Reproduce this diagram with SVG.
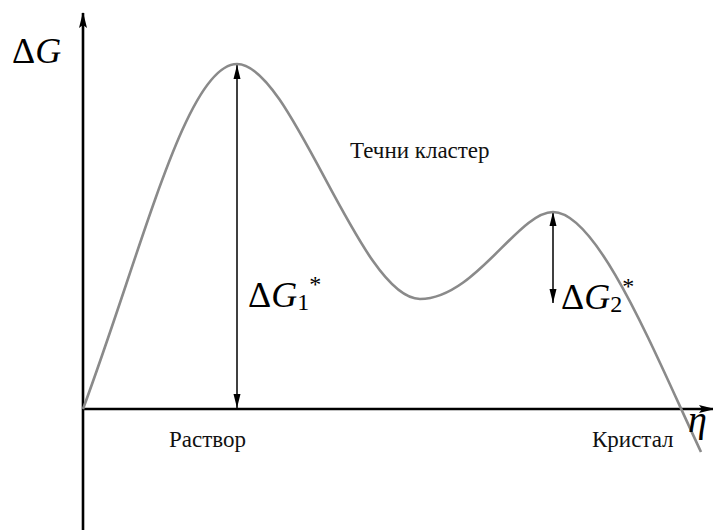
<svg xmlns="http://www.w3.org/2000/svg" width="713" height="530" viewBox="0 0 713 530">
<defs>
<style>
.axis{stroke:#000;stroke-width:2.6;fill:none}
.dim{stroke:#000;stroke-width:1.5;fill:none}
.curve{stroke:#8a8a8a;stroke-width:2.6;fill:none}
text{font-family:'Liberation Serif',serif}
.lbl{fill:#111}
.math{fill:#000}
</style>
<marker id="axArrow" viewBox="0 0 16 10" refX="15" refY="5" markerWidth="16" markerHeight="10" markerUnits="userSpaceOnUse" orient="auto">
<path d="M0,1 L16,5 L0,9 L3,5 Z" fill="#000"/>
</marker>
<marker id="dimArrow" viewBox="0 0 14 8" refX="14" refY="4" markerWidth="14" markerHeight="8" markerUnits="userSpaceOnUse" orient="auto-start-reverse">
<path d="M0,0.5 L14,4 L0,7.5 Z" fill="#000"/>
</marker>
</defs>
<g id="connectors">
<line id="y-axis" class="axis" x1="83" y1="530" x2="83" y2="13" marker-end="url(#axArrow)"/>
<line id="x-axis" class="axis" x1="82" y1="409" x2="714" y2="409" marker-end="url(#axArrow)"/>
<line id="dG1-arrow" class="dim" x1="237" y1="65" x2="237" y2="408" marker-start="url(#dimArrow)" marker-end="url(#dimArrow)"/>
<line id="dG2-arrow" class="dim" x1="553" y1="212" x2="553" y2="303" marker-start="url(#dimArrow)" marker-end="url(#dimArrow)"/>
</g>
<g id="energy-curve">
<path class="curve" d="M83,409 C143,247 187,64 237,64 C292,64 360,299 420,299 C475,299 518,212 553,212 C598,212 655,354 701,452"/>
</g>
<g id="label-dG">
<text class="math" x="12" y="63" font-size="36" font-family="Liberation Serif">Δ<tspan font-style="italic" font-family="Liberation Serif">G</tspan></text>
</g>
<g id="label-dG1">
<text class="math" x="248" y="307" font-size="36" font-family="Liberation Serif">Δ<tspan font-style="italic">G</tspan><tspan font-size="24" dy="3">1</tspan><tspan font-size="24" dy="-18">*</tspan></text>
</g>
<g id="label-dG2">
<text class="math" x="561" y="309" font-size="36" font-family="Liberation Serif">Δ<tspan font-style="italic">G</tspan><tspan font-size="24" dy="3">2</tspan><tspan font-size="24" dy="-18">*</tspan></text>
</g>
<g id="label-cluster">
<text class="lbl" x="350" y="158" font-size="23">Течни кластер</text>
</g>
<g id="label-solution">
<text class="lbl" x="169" y="447" font-size="23">Раствор</text>
</g>
<g id="label-crystal">
<text class="lbl" x="592" y="447" font-size="23">Кристал</text>
</g>
<g id="label-eta">
<text class="math" x="688" y="432" font-size="38" font-style="italic" font-family="Liberation Serif">η</text>
</g>
</svg>
